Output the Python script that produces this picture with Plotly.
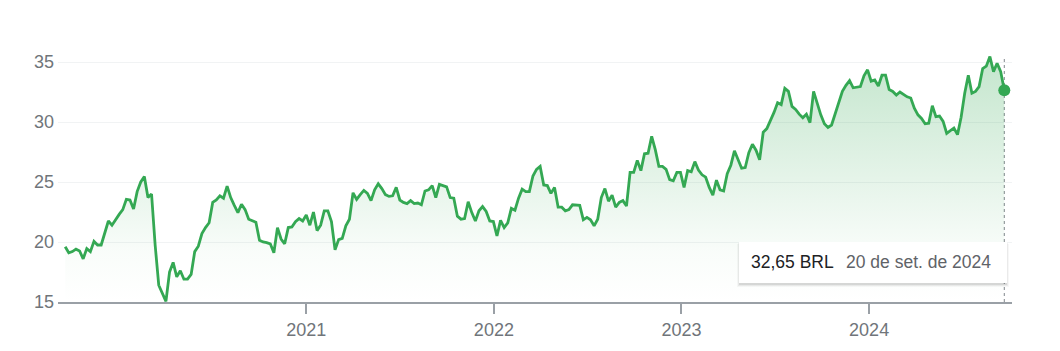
import pandas as pd
import plotly.graph_objects as go

# Weekly closing prices (BRL), 20 Sep 2019 -> 20 Sep 2024
prices_y1 = [19.6, 19.1, 19.2, 19.4, 19.25, 18.6, 19.45, 19.2, 20.05, 19.75, 19.75, 20.85, 21.75,
             21.4, 21.9, 22.3, 22.7, 23.55, 23.5, 22.75, 24.2, 25.0, 25.45, 23.7, 24.0, 19.75,
             16.4, 15.7, 15.05, 17.5, 18.3, 17.1, 17.6, 16.9, 16.9, 17.3, 19.2, 19.65, 20.7,
             21.2, 21.6, 23.3, 23.5, 23.85, 23.65, 24.65, 23.7, 23.05, 22.45, 23.15, 22.7, 21.9]
prices_y2 = [21.8, 21.65, 20.15, 20.0, 19.95, 19.85, 19.1, 21.2, 20.25, 19.85, 21.2, 21.25, 21.7,
             21.95, 21.75, 22.25, 21.4, 22.5, 20.95, 21.4, 22.6, 22.6, 21.7, 19.35, 20.2, 20.3,
             21.35, 21.9, 24.1, 23.55, 23.95, 24.3, 24.05, 23.45, 24.35, 24.85, 24.45, 23.95, 23.8,
             23.85, 24.55, 23.5, 23.3, 23.2, 23.45, 23.2, 23.25, 23.1, 24.25, 24.35, 24.7, 23.7]
prices_y3 = [24.8, 24.7, 24.6, 23.7, 23.65, 22.15, 21.9, 21.95, 23.35, 22.45, 21.75, 22.6, 22.95,
             22.55, 21.75, 21.7, 20.5, 21.8, 21.2, 21.6, 22.8, 22.65, 23.65, 24.4, 24.2, 24.2,
             25.5, 26.05, 26.3, 24.75, 24.7, 24.05, 24.55, 22.9, 22.9, 22.6, 22.7, 23.1, 23.1,
             23.05, 21.85, 22.05, 21.85, 21.35, 21.9, 23.7, 24.45, 23.4, 23.9, 22.9, 23.3, 23.45]
prices_y4 = [23.0, 25.8, 25.8, 26.8, 25.95, 27.35, 27.4, 28.8, 27.7, 26.3, 26.3, 26.05, 25.2,
             25.1, 25.8, 25.8, 24.55, 25.95, 25.85, 26.7, 26.0, 25.6, 25.4, 24.55, 23.9, 25.15,
             24.35, 24.25, 25.7, 26.4, 27.6, 26.85, 26.15, 26.2, 27.45, 28.15, 27.65, 26.85, 29.15,
             29.45, 30.1, 30.8, 31.6, 31.45, 32.8, 32.55, 31.3, 31.05, 30.65, 30.35, 30.65, 29.95]
prices_y5 = [32.55, 31.55, 30.6, 29.85, 29.55, 29.75, 30.65, 31.7, 32.55, 33.05, 33.45, 32.85,
             32.9, 32.95, 33.85, 34.35, 33.4, 33.5, 33.0, 33.9, 33.9, 32.7, 32.55, 32.25, 32.5,
             32.3, 32.1, 32.0, 31.15, 30.6, 30.3, 29.85, 29.9, 31.35, 30.45, 30.5, 30.05, 29.05,
             29.25, 29.5, 28.95, 30.4, 32.4, 33.9, 32.4, 32.55, 32.95, 34.45, 34.65, 35.45, 34.2,
             34.9, 34.2, 32.65]
prices = prices_y1 + prices_y2 + prices_y3 + prices_y4 + prices_y5
dates = pd.date_range("2019-09-20", periods=len(prices), freq="7D")

y_ticks = [15, 20, 25, 30, 35]
x_ticks = ["2021-01-01", "2022-01-01", "2023-01-01", "2024-01-01"]
x_labels = ["2021", "2022", "2023", "2024"]

last_price_text = "32,65 BRL"
last_date_text = "20 de set. de 2024"

GREEN = "#34a853"
FONT = "Arial, Liberation Sans, sans-serif"

# plot area in pixels (for tooltip placement)
W, H = 1060, 351
L, R, T, B = 58, 48, 38, 49
PW, PH = W - L - R, H - T - B


def px(xp):
    return (xp - L) / PW


def py(yp):
    return (H - B - yp) / PH


fig = go.Figure()
fig.add_trace(go.Scatter(
    x=dates, y=prices, mode="lines",
    line=dict(color=GREEN, width=2.8),
    fill="tozeroy",
    fillgradient=dict(type="vertical", start=15, stop=36,
                      colorscale=[[0, "rgba(52,168,83,0)"], [0.2, "rgba(52,168,83,0.03)"],
                                  [1, "rgba(52,168,83,0.30)"]]),
    hoverinfo="skip", showlegend=False,
))
fig.add_trace(go.Scatter(
    x=[dates[-1]], y=[prices[-1]], mode="markers",
    marker=dict(color=GREEN, size=12), hoverinfo="skip", showlegend=False,
))

shapes = [
    dict(type="line", xref="x", yref="paper", x0=dates[-1], x1=dates[-1], y0=0, y1=py(57),
         line=dict(color="#80868b", width=1, dash="dot"), layer="below"),
]
# tooltip shadow + box
bx0, bx1, by0, by1 = 739, 1007, 242, 283
for d, a in [(3, 0.03), (2, 0.05), (1, 0.08)]:
    shapes.append(dict(type="rect", xref="paper", yref="paper",
                       x0=px(bx0 - d + 1), x1=px(bx1 + d - 1), y0=py(by1 + d + 1), y1=py(by0 + d - 1),
                       line=dict(width=0), fillcolor=f"rgba(0,0,0,{a})", layer="above"))
shapes.append(dict(type="rect", xref="paper", yref="paper",
                   x0=px(bx0), x1=px(bx1), y0=py(by1), y1=py(by0),
                   line=dict(width=0), fillcolor="white", layer="above"))

annotations = [
    dict(xref="paper", yref="paper", x=px(749), y=py(262), xanchor="left", yanchor="middle",
         text=last_price_text, showarrow=False, font=dict(family=FONT, size=17.5, color="#202124")),
    dict(xref="paper", yref="paper", x=px(844), y=py(262), xanchor="left", yanchor="middle",
         text=last_date_text, showarrow=False, font=dict(family=FONT, size=17.5, color="#5f6368")),
]

fig.update_layout(
    width=W, height=H,
    margin=dict(l=L, r=R, t=T, b=B, pad=0),
    paper_bgcolor="white", plot_bgcolor="white",
    font=dict(family=FONT, size=17.5, color="#70757a"),
    shapes=shapes, annotations=annotations,
    hovermode=False,
    xaxis=dict(type="date", range=["2019-09-06", "2024-10-05"],
               tickvals=x_ticks, ticktext=x_labels,
               showgrid=False, zeroline=False,
               showline=True, linecolor="#9aa0a6", linewidth=2,
               ticks="outside", ticklen=10, tickwidth=2, tickcolor="#9aa0a6",
               tickfont=dict(size=18, color="#70757a")),
    yaxis=dict(range=[15, 37], tickvals=y_ticks,
               showgrid=True, gridcolor="#f1f3f4", gridwidth=1,
               zeroline=False, showline=False, ticks="",
               ticklabelstandoff=3,
               tickfont=dict(size=18, color="#70757a")),
)

fig.write_html("out.html")
